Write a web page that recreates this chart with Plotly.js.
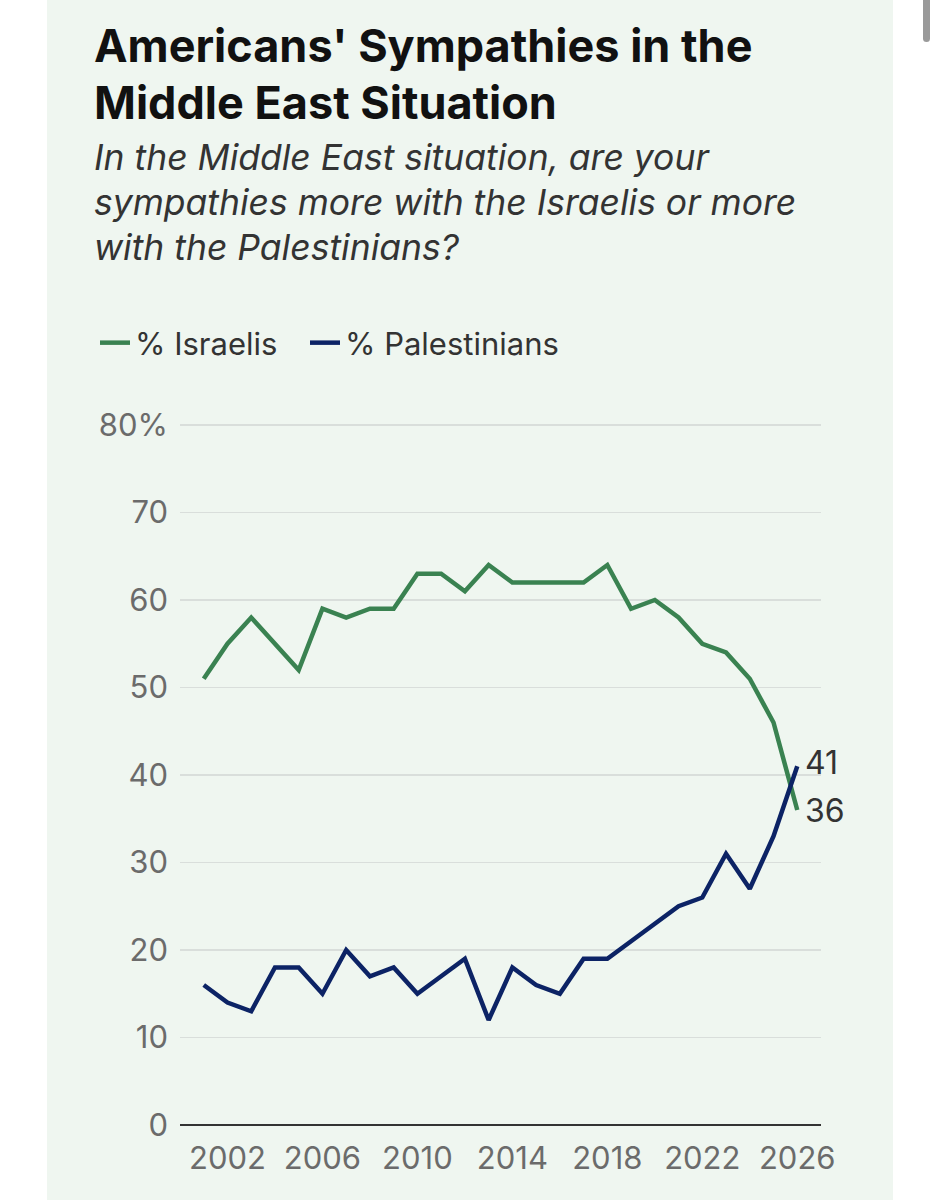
<!DOCTYPE html>
<html>
<head>
<meta charset="utf-8">
<script src="https://cdn.plot.ly/plotly-3.0.1.min.js"></script>
<style>
  html, body { margin: 0; padding: 0; background: #ffffff; }
  #panel { position: absolute; left: 47px; top: 0; width: 846px; height: 1200px; background: #eff6f0; }
  #scroll { position: absolute; left: 923px; top: 0; width: 7px; height: 42px; background: #9a9a9a; border-radius: 0 0 4px 4px; }
  #chart { position: absolute; left: 0; top: 0; width: 937px; height: 1200px; }
</style>
</head>
<body>
<div id="panel"></div>
<div id="scroll"></div>
<div id="chart"></div>
<script>
const years = [2001,2002,2003,2004,2005,2006,2007,2008,2009,2010,2011,2012,2013,
               2014,2015,2016,2017,2018,2019,2020,2021,2022,2023,2024,2025,2026];
const israelis = [51,55,58,55,52,59,58,59,59,63,63,61,64,62,62,62,62,64,59,60,58,55,54,51,46,36];
const palestinians = [16,14,13,18,18,15,20,17,18,15,17,19,12,18,16,15,19,19,21,23,25,26,31,27,33,41];
const seriesNames = ['% Israelis', '% Palestinians'];
const yTickVals = [0,10,20,30,40,50,60,70,80];
const yTickText = ['0','10','20','30','40','50','60','70','80%'];
const xTickVals = [2002,2006,2010,2014,2018,2022,2026];
const titleLines = ["Americans' Sympathies in the", "Middle East Situation"];
const subtitleLines = ["In the Middle East situation, are your",
                       "sympathies more with the Israelis or more",
                       "with the Palestinians?"];

const GREEN = '#3a8251';
const NAVY = '#0c2365';
const FONT = 'Inter, "Noto Sans", sans-serif';

const W = 937, H = 1200, L = 180, R = 116, B = 75;
const PXPER = 8.75;              // pixels per percentage point
const YMAX = 80 + 3 / PXPER;     // small headroom so the 80% gridline is drawn
const T = Math.round(H - B - YMAX * PXPER);
const plotH = H - T - B;
function py(pix) { return (H - B - pix) / plotH; }
function px(pix) { return (pix - L) / (W - L - R); }

const traces = [
  { x: years, y: israelis, name: seriesNames[0], type: 'scatter', mode: 'lines',
    line: { color: GREEN, width: 4.5 }, hoverinfo: 'skip', legend: 'legend' },
  { x: years, y: palestinians, name: seriesNames[1], type: 'scatter', mode: 'lines',
    line: { color: NAVY, width: 4.5 }, hoverinfo: 'skip', legend: 'legend2' }
];

const annotations = [];
const titleY = [45, 102];
titleLines.forEach((t, i) => annotations.push({
  text: t, xref: 'paper', yref: 'paper', x: px(92), y: py(titleY[i]),
  xanchor: 'left', yanchor: 'middle', showarrow: false,
  font: { family: FONT, size: 45, color: '#111111', weight: 700 }
}));
const subY = [157, 202, 247];
subtitleLines.forEach((t, i) => annotations.push({
  text: '<i>' + t + '</i>', xref: 'paper', yref: 'paper', x: px(92), y: py(subY[i]),
  xanchor: 'left', yanchor: 'middle', showarrow: false,
  font: { family: FONT, size: 35.5, color: '#333333' }
}));
const last = years.length - 1;
annotations.push({
  text: String(palestinians[last]), xref: 'x', yref: 'y', x: years[last], y: palestinians[last],
  xanchor: 'left', yanchor: 'middle', xshift: 6, yshift: 4, showarrow: false,
  font: { family: FONT, size: 32, color: '#333333' }
});
annotations.push({
  text: String(israelis[last]), xref: 'x', yref: 'y', x: years[last], y: israelis[last],
  xanchor: 'left', yanchor: 'middle', xshift: 6, yshift: 0, showarrow: false,
  font: { family: FONT, size: 32, color: '#333333' }
});

const legendBase = {
  orientation: 'h', y: py(343), xanchor: 'left', yanchor: 'middle',
  bgcolor: 'rgba(0,0,0,0)', font: { family: FONT, size: 31, color: '#333333' },
  itemclick: false, itemdoubleclick: false
};

const layout = {
  width: W, height: H,
  margin: { l: L, r: R, t: T, b: B, pad: 0 },
  paper_bgcolor: 'rgba(0,0,0,0)',
  plot_bgcolor: 'rgba(0,0,0,0)',
  showlegend: true,
  legend: Object.assign({}, legendBase, { x: px(95) }),
  legend2: Object.assign({}, legendBase, { x: px(305) }),
  xaxis: {
    range: [2000, 2027], tickvals: xTickVals, ticks: '', showgrid: false,
    zeroline: false, showline: false, fixedrange: true,
    tickfont: { family: FONT, size: 31, color: '#6b6b6b' }, ticklabelstandoff: 12
  },
  yaxis: {
    range: [0, YMAX], tickvals: yTickVals, ticktext: yTickText, ticks: '',
    showgrid: true, gridcolor: '#d9dedb', gridwidth: 1.5,
    zeroline: true, zerolinecolor: '#333333', zerolinewidth: 2.5,
    showline: false, fixedrange: true,
    tickfont: { family: FONT, size: 31, color: '#6b6b6b' }, ticklabelstandoff: 11
  },
  annotations: annotations
};

Plotly.newPlot('chart', traces, layout, { staticPlot: true, displayModeBar: false });
</script>
</body>
</html>
